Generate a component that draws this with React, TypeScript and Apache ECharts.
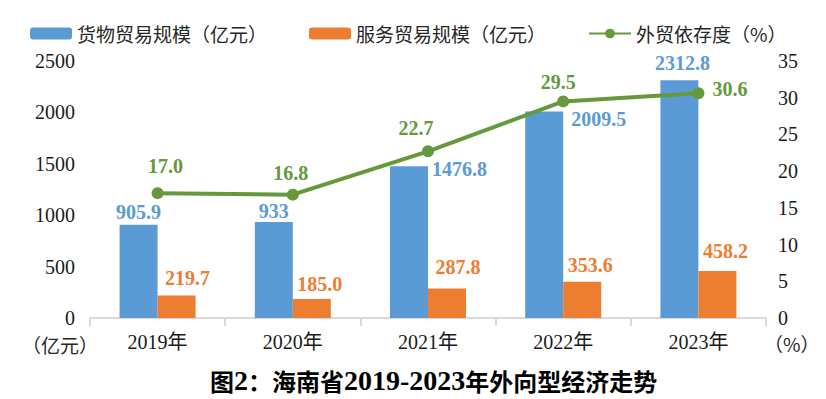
import React, { useEffect, useRef } from "react";
import * as echarts from "echarts";

const categories = ["2019年", "2020年", "2021年", "2022年", "2023年"];
const goodsTrade = [905.9, 933, 1476.8, 2009.5, 2312.8];
const serviceTrade = [219.7, 185.0, 287.8, 353.6, 458.2];
const dependence = [17.0, 16.8, 22.7, 29.5, 30.6];

const leftTicks = { min: 0, max: 2500, interval: 500 };
const rightTicks = { min: 0, max: 35, interval: 5 };

const BLUE = "#5B9BD5";
const ORANGE = "#ED7D31";
const GREEN = "#64993C";
const SERIF = "'Liberation Serif', 'Noto Sans CJK SC', serif";
const CJK = "'Noto Sans CJK SC', 'Liberation Serif', sans-serif";

// label placement styling (not data)
const goodsLabelCfg: any[] = [
  { position: "top", offset: [0, 2] },
  { position: "top", offset: [0, 4] },
  { position: [42, 3], align: "left", verticalAlign: "middle" },
  { position: [46, 8], align: "left", verticalAlign: "middle" },
  { position: "top", offset: [3, -2] },
];
const serviceLabelCfg: any[] = [
  { position: "top", offset: [11, -2] },
  { position: "top", offset: [8, 0] },
  { position: "top", offset: [11, -6] },
  { position: "top", offset: [8, -2] },
  { position: "top", offset: [8, -5] },
];
const lineLabelCfg: any[] = [
  { position: "top", offset: [8, -6] },
  { position: "top", offset: [-2, -1] },
  { position: "top", offset: [-12, -2] },
  { position: "top", offset: [-5, 2] },
  { position: "right", offset: [3, -4] },
];

export default function App() {
  const ref = useRef<HTMLDivElement>(null);

  useEffect(() => {
    if (!ref.current) return;
    const chart = echarts.init(ref.current, null, { renderer: "svg" });

    const labelBase = {
      show: true,
      fontFamily: SERIF,
      fontWeight: "bold",
      fontSize: 20,
    };

    const option: any = {
      animation: false,
      backgroundColor: "#ffffff",
      legend: {
        left: 25,
        top: 19,
        itemWidth: 42,
        itemHeight: 12,
        itemGap: 42,
        itemStyle: { borderWidth: 0 },
        textStyle: { fontFamily: CJK, fontSize: 19, color: "#262626", padding: [0, 0, 0, 0] },
        data: ["货物贸易规模（亿元）", "服务贸易规模（亿元）", "外贸依存度（%）"],
      },
      grid: { left: 90, right: 60, top: 61, bottom: 81 },
      xAxis: {
        type: "category",
        data: categories,
        axisLine: { lineStyle: { color: "#D9D9D9", width: 2 } },
        axisTick: { show: true, length: 8, interval: 0, lineStyle: { color: "#D9D9D9", width: 2 } },
        axisLabel: { fontFamily: SERIF, fontSize: 20, color: "#1a1a1a", margin: 14 },
      },
      yAxis: [
        {
          type: "value",
          ...leftTicks,
          splitLine: { show: false },
          axisLine: { show: false },
          axisTick: { show: false },
          axisLabel: {
            fontFamily: SERIF,
            fontSize: 20,
            color: "#1a1a1a",
            margin: 15,
            formatter: (v: number) => String(v),
          },
        },
        {
          type: "value",
          ...rightTicks,
          position: "right",
          splitLine: { show: false },
          axisLine: { show: false },
          axisTick: { show: false },
          axisLabel: {
            fontFamily: SERIF,
            fontSize: 20,
            color: "#1a1a1a",
            margin: 12,
            formatter: (v: number) => String(v),
          },
        },
      ],
      series: [
        {
          name: "货物贸易规模（亿元）",
          type: "bar",
          barWidth: 38,
          barGap: "0%",
          itemStyle: { color: BLUE },
          label: { ...labelBase, color: BLUE, formatter: (p: any) => String(p.value) },
          data: goodsTrade.map((v, i) => ({ value: v, label: goodsLabelCfg[i] })),
        },
        {
          name: "服务贸易规模（亿元）",
          type: "bar",
          barWidth: 38,
          barGap: "0%",
          itemStyle: { color: ORANGE },
          label: { ...labelBase, color: ORANGE, formatter: (p: any) => Number(p.value).toFixed(1) },
          data: serviceTrade.map((v, i) => ({ value: v, label: serviceLabelCfg[i] })),
        },
        {
          name: "外贸依存度（%）",
          type: "line",
          yAxisIndex: 1,
          symbol: "circle",
          symbolSize: 12,
          lineStyle: { color: GREEN, width: 4 },
          itemStyle: { color: GREEN },
          label: { ...labelBase, color: GREEN, formatter: (p: any) => Number(p.value).toFixed(1) },
          data: dependence.map((v, i) => ({ value: v, label: lineLabelCfg[i] })),
          z: 5,
        },
      ],
      graphic: [
        {
          type: "text",
          left: 22,
          top: 335,
          style: { text: "（亿元）", fontFamily: CJK, fontSize: 19, fill: "#262626" },
        },
        {
          type: "text",
          left: 764,
          top: 334,
          style: { text: "（%）", fontFamily: CJK, fontSize: 19, fill: "#262626" },
        },
        {
          type: "text",
          left: 210,
          top: 366,
          style: {
            text: "{a|图}{b|2}{a|：海南省}{b|2019-2023}{a|年外向型经济走势}",
            rich: {
              a: { fontFamily: CJK, fontWeight: "bold", fontSize: 24, fill: "#000", color: "#000" },
              b: { fontFamily: SERIF, fontWeight: "bold", fontSize: 28, fill: "#000", color: "#000" },
            },
            fill: "#000",
          },
        },
      ],
    };

    chart.setOption(option);
    return () => chart.dispose();
  }, []);

  return (
    <div
      ref={ref}
      style={{ position: "fixed", left: 0, top: 0, width: 826, height: 399, background: "#fff" }}
    />
  );
}
